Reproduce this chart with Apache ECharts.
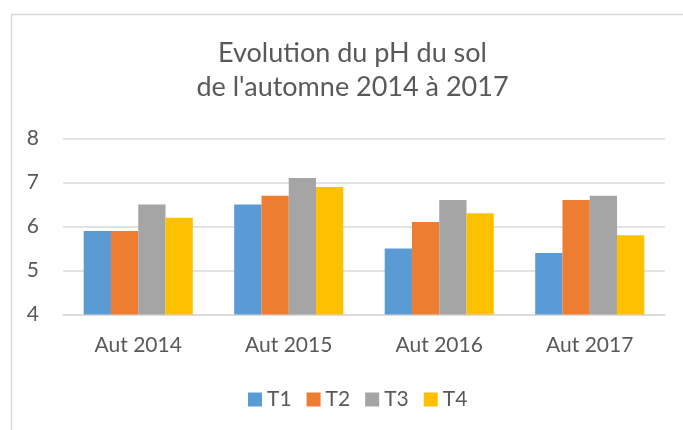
<!DOCTYPE html>
<html>
<head>
<meta charset="utf-8">
<script src="https://cdn.jsdelivr.net/npm/echarts@6/dist/echarts.min.js"></script>
<style>
  html, body { margin: 0; padding: 0; background: #fff; }
  #chart { width: 683px; height: 430px; }
</style>
</head>
<body>
<div id="chart"></div>
<script>
var categories = ['Aut 2014', 'Aut 2015', 'Aut 2016', 'Aut 2017'];
var seriesNames = ['T1', 'T2', 'T3', 'T4'];
var t1 = [5.9, 6.5, 5.5, 5.4];
var t2 = [5.9, 6.7, 6.1, 6.6];
var t3 = [6.5, 7.1, 6.6, 6.7];
var t4 = [6.2, 6.9, 6.3, 5.8];
var colors = ['#5B9BD5', '#ED7D31', '#A5A5A5', '#FFC000'];
var textColor = '#595959';
var font = 'Lato';

var chart = echarts.init(document.getElementById('chart'));

function bar(name, data) {
  return {
    name: name,
    type: 'bar',
    data: data,
    barGap: '0%',
    barCategoryGap: '27.5%'
  };
}

var option = {
  animation: false,
  color: colors,
  textStyle: { fontFamily: font, color: textColor },
  graphic: [{
    type: 'rect',
    shape: { x: 11.5, y: 14.5, width: 800, height: 600 },
    style: { fill: 'none', stroke: '#D9D9D9', lineWidth: 1.5 },
    silent: true
  }],
  title: {
    text: 'Evolution du pH du sol\nde l\'automne 2014 à 2017',
    left: 352.5,
    top: 36,
    padding: 0,
    textAlign: 'center',
    textStyle: {
      fontFamily: font,
      fontSize: 27,
      fontWeight: 'normal',
      color: textColor,
      lineHeight: 34
    }
  },
  legend: {
    data: seriesNames,
    left: 248,
    top: 389,
    padding: 0,
    itemWidth: 14,
    itemHeight: 14,
    itemGap: 15,
    icon: 'rect',
    textStyle: { fontFamily: font, fontSize: 21, color: textColor }
  },
  grid: {
    left: 63,
    right: 18,
    top: 138.5,
    height: 176
  },
  xAxis: {
    type: 'category',
    data: categories,
    axisLine: { lineStyle: { color: '#D9D9D9', width: 1.5 } },
    axisTick: { show: false },
    axisLabel: { fontFamily: font, fontSize: 21, color: textColor, margin: 20 }
  },
  yAxis: {
    type: 'value',
    min: 4,
    max: 8,
    interval: 1,
    axisLine: { show: false },
    axisTick: { show: false },
    axisLabel: { fontFamily: font, fontSize: 21, color: textColor, margin: 24 },
    splitLine: { lineStyle: { color: '#D9D9D9', width: 1.5 } }
  },
  series: [
    bar('T1', t1),
    bar('T2', t2),
    bar('T3', t3),
    bar('T4', t4)
  ]
};

chart.setOption(option);
</script>
</body>
</html>
